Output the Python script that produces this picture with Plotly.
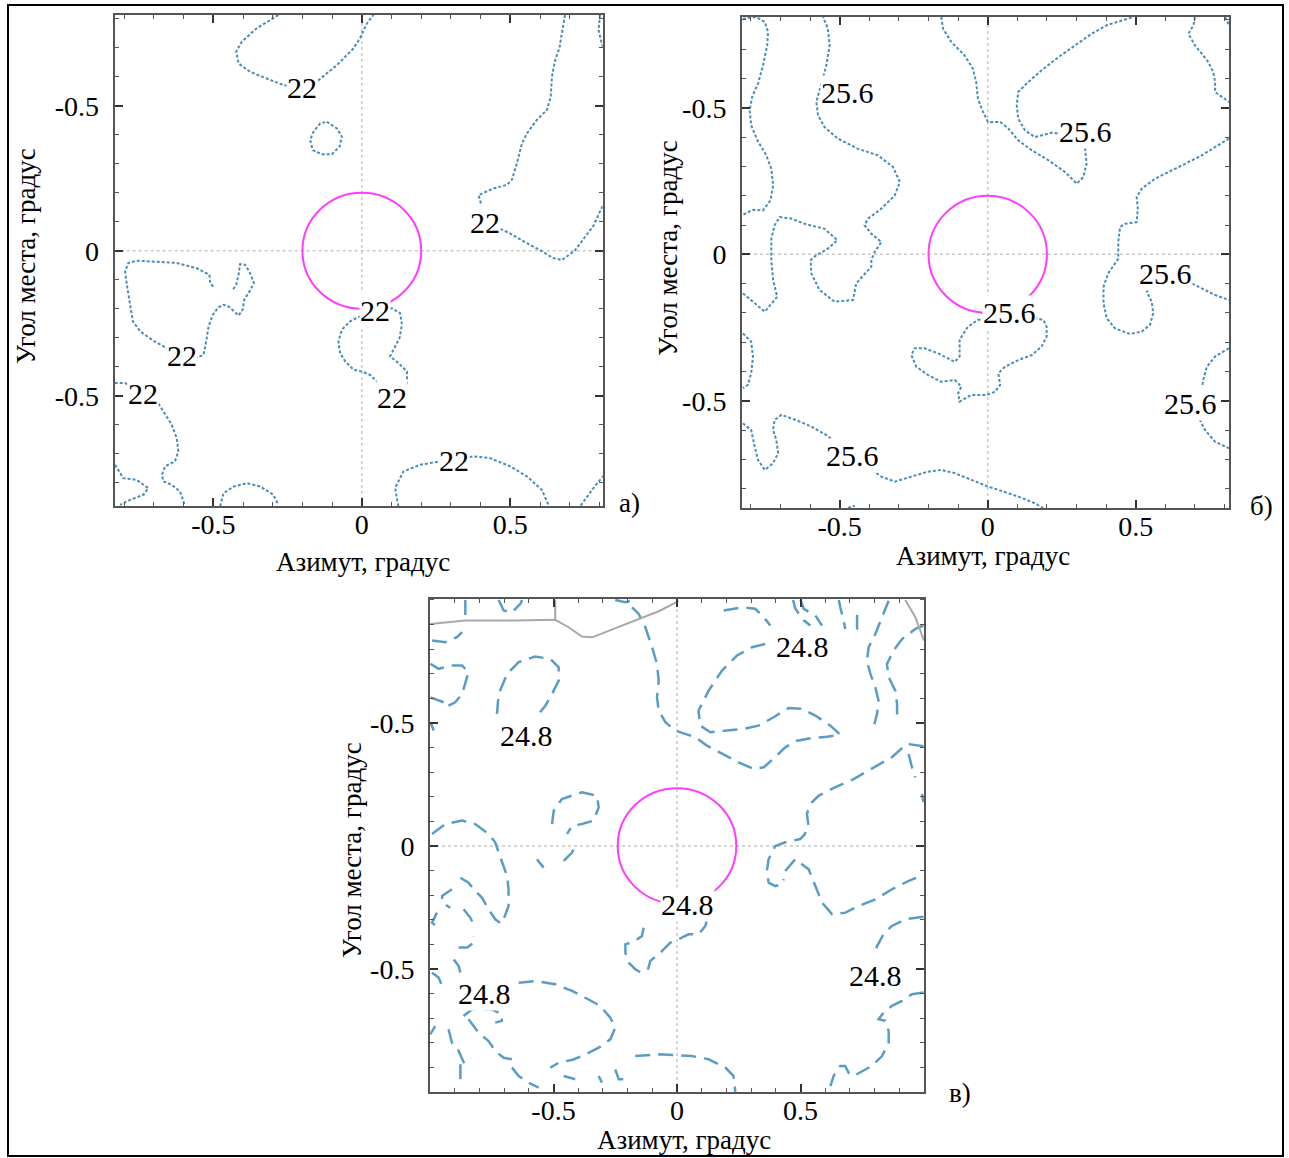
import plotly.graph_objects as go

W, H = 1289, 1158
SERIF = "Liberation Serif"

# ---------------- data: contour polylines (azimuth, elevation), degrees ----------------
# Panel а) level 22
a_level = "22"
a_c1 = [(-0.281,0.813),(-0.354,0.767),(-0.404,0.721),(-0.423,0.686),(-0.415,0.646),(-0.376,0.617),(-0.320,0.594),(-0.264,0.571),(-0.247,0.568),(-0.201,0.566),(-0.152,0.583),(-0.084,0.640),(-0.028,0.698),(-0.006,0.733),(0.017,0.784),(0.039,0.813)]
a_c2 = [(-0.118,0.445),(-0.084,0.422),(-0.067,0.393),(-0.075,0.359),(-0.101,0.333),(-0.135,0.333),(-0.165,0.347),(-0.174,0.382),(-0.163,0.410),(-0.140,0.439),(-0.118,0.445)]
a_c3 = [(0.684,0.813),(0.665,0.698),(0.651,0.658),(0.640,0.600),(0.636,0.531),(0.623,0.485),(0.589,0.451),(0.556,0.405),(0.539,0.370),(0.522,0.301),(0.505,0.244),(0.488,0.227),(0.443,0.215),(0.393,0.192),(0.404,0.152),(0.398,0.129),(0.415,0.099),(0.460,0.077),(0.499,0.060),(0.556,0.026),(0.600,0.002),(0.644,-0.025),(0.674,-0.032),(0.718,0.002),(0.779,0.085),(0.812,0.158)]
a_c4 = [(0.802,0.813),(0.797,0.761),(0.808,0.715),(0.816,0.686)]
a_c5 = [(-0.500,-0.123),(-0.511,-0.111),(-0.513,-0.083),(-0.556,-0.060),(-0.623,-0.042),(-0.702,-0.037),(-0.758,-0.034),(-0.786,-0.042),(-0.797,-0.071),(-0.791,-0.117),(-0.782,-0.175),(-0.771,-0.243),(-0.746,-0.278),(-0.702,-0.310),(-0.662,-0.333),(-0.606,-0.359),(-0.561,-0.370),(-0.533,-0.359),(-0.524,-0.312),(-0.516,-0.261),(-0.502,-0.221),(-0.483,-0.195),(-0.466,-0.186),(-0.449,-0.192),(-0.430,-0.209),(-0.415,-0.223),(-0.401,-0.203),(-0.396,-0.169),(-0.378,-0.140),(-0.363,-0.111),(-0.376,-0.077),(-0.393,-0.048),(-0.410,-0.046),(-0.415,-0.083),(-0.423,-0.117),(-0.434,-0.134)]
a_c6 = [(-0.832,-0.456),(-0.797,-0.456),(-0.741,-0.497),(-0.690,-0.519),(-0.668,-0.554),(-0.640,-0.600),(-0.623,-0.646),(-0.618,-0.692),(-0.629,-0.726),(-0.662,-0.743),(-0.673,-0.772),(-0.668,-0.795),(-0.640,-0.807),(-0.612,-0.830),(-0.595,-0.881)]
a_c7 = [(-0.831,-0.738),(-0.803,-0.784),(-0.758,-0.790),(-0.719,-0.818),(-0.735,-0.841),(-0.780,-0.859),(-0.814,-0.876)]
a_c8 = [(-0.477,-0.881),(-0.466,-0.836),(-0.432,-0.813),(-0.387,-0.801),(-0.342,-0.813),(-0.298,-0.841),(-0.281,-0.876)]
a_c9 = [(0.045,-0.208),(0.101,-0.198),(0.129,-0.215),(0.135,-0.255),(0.127,-0.301),(0.095,-0.364),(0.123,-0.387),(0.152,-0.416),(0.152,-0.462),(0.101,-0.497),(0.056,-0.456),(0.028,-0.428),(0.000,-0.416),(-0.028,-0.410),(-0.056,-0.381),(-0.073,-0.353),(-0.079,-0.312),(-0.067,-0.272),(-0.039,-0.243),(-0.006,-0.226),(0.045,-0.208)]
a_c10 = [(0.123,-0.881),(0.112,-0.818),(0.140,-0.761),(0.196,-0.738),(0.264,-0.726),(0.309,-0.721),(0.376,-0.709),(0.432,-0.715),(0.499,-0.743),(0.556,-0.778),(0.606,-0.824),(0.628,-0.876)]
a_c11 = [(0.825,-0.761),(0.780,-0.818),(0.735,-0.881)]
a_contours = [a_c1, a_c2, a_c3, a_c4, a_c5, a_c6, a_c7, a_c8, a_c9, a_c10, a_c11]
a_labels = [(-0.201,0.564),(0.415,0.099),(-0.604,-0.360),(-0.736,-0.491),(0.045,-0.206),(0.102,-0.505),(0.309,-0.722)]

# Panel б) level 25.6
b_level = "25.6"
b_c1 = [(-0.827,0.804),(-0.782,0.810),(-0.753,0.793),(-0.742,0.759),(-0.745,0.713),(-0.759,0.645),(-0.776,0.582),(-0.796,0.537),(-0.804,0.491),(-0.799,0.440),(-0.778,0.389),(-0.748,0.338),(-0.731,0.292),(-0.725,0.235),(-0.734,0.184),(-0.759,0.150),(-0.793,0.152),(-0.827,0.135)]
b_c2 = [(-0.827,-0.133),(-0.753,-0.196),(-0.711,-0.145),(-0.725,-0.088),(-0.731,-0.019),(-0.731,0.053),(-0.720,0.099),(-0.703,0.127),(-0.664,0.122),(-0.618,0.104),(-0.551,0.087),(-0.508,0.048),(-0.540,0.019),(-0.579,-0.003),(-0.598,-0.020),(-0.596,-0.065),(-0.568,-0.122),(-0.517,-0.162),(-0.455,-0.156),(-0.444,-0.099),(-0.393,-0.042),(-0.393,-0.019),(-0.382,0.008),(-0.359,0.042),(-0.393,0.070),(-0.416,0.099),(-0.404,0.122),(-0.359,0.156),(-0.314,0.201),(-0.297,0.247),(-0.320,0.298),(-0.371,0.338),(-0.438,0.360),(-0.506,0.395),(-0.551,0.434),(-0.573,0.474),(-0.579,0.520),(-0.545,0.645),(-0.534,0.713),(-0.540,0.770),(-0.556,0.810)]
b_c3 = [(-0.157,0.810),(-0.151,0.770),(-0.123,0.725),(-0.078,0.679),(-0.050,0.633),(-0.039,0.588),(-0.033,0.531),(-0.016,0.486),(0.001,0.452),(0.042,0.452),(0.070,0.429),(0.103,0.389),(0.149,0.355),(0.205,0.321),(0.261,0.281),(0.301,0.241),(0.323,0.264),(0.334,0.309),(0.329,0.360),(0.278,0.407),(0.216,0.415),(0.160,0.400),(0.126,0.423),(0.103,0.463),(0.098,0.509),(0.103,0.554),(0.137,0.588),(0.182,0.628),(0.239,0.673),(0.295,0.713),(0.351,0.753),(0.402,0.782),(0.453,0.799),(0.492,0.810)]
b_c4 = [(0.700,0.810),(0.695,0.782),(0.678,0.753),(0.700,0.713),(0.723,0.685),(0.745,0.656),(0.762,0.622),(0.768,0.588),(0.768,0.554),(0.791,0.537),(0.815,0.520)]
b_c5 = [(0.802,0.810),(0.815,0.782)]
b_c6 = [(0.815,0.395),(0.779,0.372),(0.723,0.338),(0.667,0.309),(0.610,0.281),(0.565,0.258),(0.520,0.224),(0.503,0.196),(0.507,0.156),(0.503,0.110),(0.464,0.104),(0.447,0.093),(0.441,0.042),(0.441,-0.015),(0.407,-0.065),(0.391,-0.111),(0.391,-0.167),(0.402,-0.218),(0.430,-0.253),(0.481,-0.272),(0.520,-0.264),(0.548,-0.241),(0.559,-0.201),(0.554,-0.162),(0.537,-0.128),(0.599,-0.067),(0.667,-0.088),(0.711,-0.111),(0.768,-0.139),(0.815,-0.156)]
b_c7 = [(0.815,-0.321),(0.768,-0.349),(0.740,-0.384),(0.728,-0.429),(0.721,-0.474),(0.684,-0.508),(0.711,-0.554),(0.734,-0.600),(0.768,-0.640),(0.815,-0.662)]
b_c8 = [(0.075,-0.200),(0.188,-0.224),(0.199,-0.247),(0.199,-0.281),(0.182,-0.315),(0.149,-0.344),(0.103,-0.361),(0.058,-0.384),(0.036,-0.406),(0.042,-0.446),(0.025,-0.469),(-0.003,-0.480),(-0.055,-0.480),(-0.095,-0.503),(-0.100,-0.474),(-0.089,-0.452),(-0.111,-0.429),(-0.157,-0.435),(-0.202,-0.412),(-0.241,-0.384),(-0.258,-0.344),(-0.247,-0.321),(-0.213,-0.321),(-0.168,-0.338),(-0.111,-0.367),(-0.095,-0.349),(-0.095,-0.292),(-0.067,-0.247),(-0.033,-0.224),(0.001,-0.218),(0.075,-0.200)]
b_c9 = [(-0.827,-0.270),(-0.799,-0.298),(-0.793,-0.350),(-0.799,-0.406),(-0.810,-0.446),(-0.827,-0.457)]
b_c10 = [(-0.827,-0.577),(-0.799,-0.600),(-0.787,-0.657),(-0.776,-0.702),(-0.753,-0.736),(-0.725,-0.713),(-0.708,-0.679),(-0.714,-0.634),(-0.725,-0.600),(-0.720,-0.566),(-0.697,-0.548),(-0.647,-0.566),(-0.596,-0.588),(-0.545,-0.617),(-0.458,-0.688),(-0.359,-0.759),(-0.314,-0.776),(-0.258,-0.759),(-0.202,-0.742),(-0.157,-0.736),(-0.111,-0.747),(-0.055,-0.770),(0.001,-0.793),(0.036,-0.804),(0.103,-0.827),(0.160,-0.850),(0.188,-0.867)]
b_c11 = [(-0.472,-0.866),(-0.449,-0.858)]
b_contours = [b_c1, b_c2, b_c3, b_c4, b_c5, b_c6, b_c7, b_c8, b_c9, b_c10, b_c11]
b_labels = [(-0.474,0.554),(0.329,0.420),(0.599,-0.064),(0.075,-0.200),(0.684,-0.508),(-0.458,-0.688)]

# Panel в) level 24.8
c_level = "24.8"
c_c1 = [(-0.729,0.537),(-0.722,0.618),(-0.688,0.699),(-0.641,0.747),(-0.574,0.770),(-0.513,0.760),(-0.479,0.726),(-0.479,0.672),(-0.506,0.618),(-0.533,0.570),(-0.560,0.537)]
c_c2 = [(-0.992,0.835),(-0.938,0.828),(-0.891,0.849),(-0.870,0.869)]
c_c3 = [(-0.998,0.740),(-0.965,0.720),(-0.918,0.733),(-0.870,0.733),(-0.844,0.706),(-0.857,0.659),(-0.870,0.618),(-0.898,0.584),(-0.925,0.570)]
c_c3b = [(-0.998,0.604),(-0.965,0.591),(-0.945,0.584)]
c_c4 = [(-0.857,1.0),(-0.857,0.916)]
c_c4b = [(-0.722,1.0),(-0.702,0.957),(-0.668,0.950),(-0.634,0.984),(-0.627,1.0)]
c_c4c = [(-0.250,1.0),(-0.209,0.991),(-0.182,0.997)]
c_c5 = [(0.357,0.821),(0.304,0.808),(0.243,0.774),(0.182,0.713),(0.128,0.631),(0.087,0.550),(0.094,0.489),(0.135,0.462),(0.202,0.469),(0.270,0.476),(0.330,0.489),(0.391,0.523),(0.452,0.561),(0.506,0.557),(0.560,0.530),(0.621,0.489),(0.661,0.452),(0.607,0.444),(0.547,0.439),(0.486,0.428),(0.438,0.401),(0.398,0.361),(0.351,0.320),(0.310,0.313),(0.249,0.340),(0.182,0.374),(0.121,0.408),(0.074,0.442),(0.034,0.455),(-0.007,0.469),(-0.047,0.503),(-0.074,0.550),(-0.081,0.604),(-0.074,0.672),(-0.081,0.740),(-0.101,0.808),(-0.128,0.889),(-0.155,0.943),(-0.182,0.970)]
c_c6 = [(0.189,0.957),(0.263,0.970),(0.317,0.964),(0.351,0.930),(0.378,0.896)]
c_c7 = [(0.470,1.0),(0.479,0.964),(0.513,0.917),(0.540,0.896)]
c_c7b = [(0.500,1.0),(0.513,0.964),(0.560,0.937),(0.587,0.896)]
c_c8 = [(0.655,1.0),(0.661,0.970),(0.675,0.916),(0.681,0.882)]
c_c8b = [(0.729,0.940),(0.729,0.882),(0.722,0.875)]
c_c9 = [(0.857,0.997),(0.830,0.930),(0.803,0.862),(0.776,0.808),(0.769,0.753),(0.783,0.699),(0.803,0.645),(0.816,0.590),(0.810,0.537),(0.796,0.483)]
c_c9b = [(0.998,0.896),(0.965,0.882),(0.911,0.841),(0.877,0.794),(0.850,0.740),(0.857,0.686),(0.884,0.631),(0.891,0.577),(0.891,0.503)]
c_c10 = [(0.998,0.405),(0.931,0.415),(0.870,0.361),(0.789,0.313),(0.715,0.272),(0.641,0.239),(0.573,0.204),(0.540,0.171),(0.526,0.130),(0.533,0.076),(0.515,0.045),(0.499,0.028),(0.438,0.015),(0.398,0.000),(0.371,-0.054),(0.364,-0.102),(0.371,-0.149),(0.398,-0.163),(0.425,-0.156),(0.432,-0.135)]
c_c10b = [(0.438,-0.102),(0.479,-0.054),(0.533,-0.095),(0.560,-0.163),(0.587,-0.230),(0.628,-0.278),(0.682,-0.271),(0.735,-0.244),(0.803,-0.217),(0.870,-0.176),(0.938,-0.142),(0.998,-0.118)]
c_c10c = [(0.938,0.374),(0.951,0.320),(0.965,0.279)]
c_c10d = [(0.992,0.211),(0.998,0.178)]
c_c11 = [(0.998,-0.288),(0.924,-0.298),(0.870,-0.325),(0.836,-0.359),(0.810,-0.407),(0.796,-0.447)]
c_c12 = [(0.998,-0.596),(0.951,-0.603),(0.911,-0.630),(0.870,-0.650),(0.836,-0.678),(0.816,-0.704),(0.843,-0.711),(0.857,-0.752),(0.857,-0.800),(0.830,-0.854),(0.789,-0.894),(0.749,-0.915),(0.715,-0.935),(0.695,-0.922),(0.681,-0.894),(0.661,-0.894),(0.634,-0.935),(0.621,-0.976)]
c_c13 = [(-0.169,-0.854),(-0.074,-0.847),(-0.007,-0.850),(0.061,-0.854),(0.128,-0.867),(0.196,-0.901),(0.229,-0.935),(0.236,-1.0)]
c_c14 = [(0.121,-0.298),(0.115,-0.325),(0.087,-0.359),(0.047,-0.359),(-0.007,-0.386),(-0.027,-0.393),(-0.074,-0.440),(-0.108,-0.467),(-0.121,-0.515)]
c_c15 = [(-0.135,-0.332),(-0.142,-0.366),(-0.169,-0.386),(-0.209,-0.400),(-0.209,-0.434),(-0.196,-0.474),(-0.169,-0.501),(-0.135,-0.521)]
c_c16 = [(-0.641,-0.556),(-0.574,-0.549),(-0.493,-0.562),(-0.425,-0.589),(-0.371,-0.617),(-0.311,-0.650),(-0.270,-0.698),(-0.250,-0.739),(-0.270,-0.786),(-0.317,-0.820),(-0.371,-0.847),(-0.419,-0.868),(-0.479,-0.881),(-0.513,-0.901)]
c_c17 = [(-0.992,0.049),(-0.938,0.089),(-0.870,0.103),(-0.817,0.089),(-0.763,0.049),(-0.736,0.015),(-0.722,-0.027),(-0.702,-0.081),(-0.688,-0.122),(-0.682,-0.176),(-0.682,-0.244),(-0.702,-0.298),(-0.722,-0.312)]
c_c18 = [(-0.877,-0.129),(-0.844,-0.149),(-0.817,-0.183),(-0.790,-0.210),(-0.763,-0.257),(-0.736,-0.298),(-0.716,-0.312)]
c_c19 = [(-0.911,-0.176),(-0.951,-0.203),(-0.951,-0.230),(-0.918,-0.251)]
c_c20 = [(-0.864,-0.257),(-0.837,-0.291),(-0.817,-0.332)]
c_c21 = [(-0.972,-0.271),(-0.992,-0.312),(-0.965,-0.332)]
c_c22 = [(-0.884,-0.413),(-0.850,-0.413),(-0.823,-0.393),(-0.823,-0.366)]
c_c23 = [(-0.904,-0.461),(-0.884,-0.488),(-0.877,-0.515)]
c_c24 = [(-0.992,-0.515),(-0.965,-0.535),(-0.945,-0.583)]
c_c25 = [(-0.864,-0.691),(-0.830,-0.664),(-0.749,-0.664),(-0.709,-0.684),(-0.709,-0.711),(-0.736,-0.718)]
c_c26 = [(-0.979,-0.732),(-0.999,-0.766)]
c_c27 = [(-0.925,-0.745),(-0.911,-0.800),(-0.884,-0.833),(-0.870,-0.867),(-0.857,-0.894)]
c_c28 = [(-0.844,-0.704),(-0.803,-0.759),(-0.763,-0.793),(-0.736,-0.833),(-0.702,-0.861),(-0.668,-0.867),(-0.648,-0.881)]
c_c29 = [(-0.668,-0.901),(-0.641,-0.935),(-0.601,-0.962),(-0.560,-0.982)]
c_c30 = [(-0.877,-0.887),(-0.877,-0.948),(-0.891,-0.976)]
c_c31 = [(-0.459,-0.935),(-0.412,-0.948)]
c_c32 = [(-0.317,-0.935),(-0.304,-0.962)]
c_c33 = [(-0.250,-0.908),(-0.236,-0.948),(-0.196,-0.948)]
c_c34 = [(-0.567,-0.054),(-0.540,-0.088)]
c_c35 = [(-0.459,-0.061),(-0.425,-0.027),(-0.419,-0.013)]
c_c36 = [(-0.506,0.089),(-0.499,0.143),(-0.466,0.191),(-0.385,0.218),(-0.324,0.204),(-0.317,0.157),(-0.338,0.103),(-0.385,0.089),(-0.425,0.082),(-0.445,0.049)]
c_c37 = [(-0.998,0.503),(-0.985,0.469)]
c_contours = [c_c1, c_c2, c_c3, c_c3b, c_c4, c_c4b, c_c4c, c_c5, c_c6, c_c7, c_c7b, c_c8, c_c8b,
              c_c9, c_c9b, c_c10, c_c10b, c_c10c, c_c10d, c_c11, c_c12, c_c13, c_c14, c_c15, c_c16,
              c_c17, c_c18, c_c19, c_c20, c_c21, c_c22, c_c23, c_c24, c_c25, c_c26, c_c27, c_c28,
              c_c29, c_c30, c_c31, c_c32, c_c33, c_c34, c_c35, c_c36, c_c37]
c_labels = [(0.508,0.812),(-0.610,0.451),(0.042,-0.236),(-0.780,-0.598),(0.803,-0.528)]
# grey boundary line in panel в
c_grey = [(-1.0,0.902),(-0.857,0.916),(-0.655,0.916),(-0.493,0.919),(-0.439,0.889),(-0.385,0.851),(-0.344,0.848),(-0.209,0.902),(-0.074,0.954),(0.006,0.995)]
c_grey2 = [(0.924,1.0),(0.945,0.963),(0.965,0.930),(0.985,0.875),(1.0,0.835)]
c_grey3 = [(-0.493,1.0),(-0.493,0.919)]

# beam circles (radius, degrees)
beam_r = {"a": (0.2, 0.2), "b": (0.2, 0.2), "c": (0.24, 0.235)}

x_ticks = [-0.5, 0, 0.5]
x_ticktext = ["-0.5", "0", "0.5"]
y_ticks = [0.5, 0, -0.5]
y_ticktext = ["-0.5", "0", "-0.5"]   # as printed in the original
x_title = "Азимут, градус"
y_title = "Угол места, градус"

# ---------------- layout geometry (pixels) ----------------
def px_dom_x(x0, x1):
    return [x0 / W, x1 / W]

def px_dom_y(y_top, y_bot):
    return [1 - y_bot / H, 1 - y_top / H]

panels = {
    "a": dict(ax="x", ay="y", dx=px_dom_x(114.7, 602.7), dy=px_dom_y(14.7, 506),
              xr=[-0.832, 0.811], yr=[-0.880, 0.814], contours=a_contours, labels=a_labels,
              level=a_level, dash="3px,2px", lw=2.0, color="#4a8db5"),
    "b": dict(ax="x2", ay="y2", dx=px_dom_x(742, 1229), dy=px_dom_y(17, 508),
              xr=[-0.830, 0.815], yr=[-0.866, 0.810], contours=b_contours, labels=b_labels,
              level=b_level, dash="3px,2px", lw=2.0, color="#4a8db5"),
    "c": dict(ax="x3", ay="y3", dx=px_dom_x(430, 924), dy=px_dom_y(598.7, 1092),
              xr=[-1.0, 1.0], yr=[-1.0, 1.005], contours=c_contours, labels=c_labels,
              level=c_level, dash="15px,8px", lw=2.5, color="#5a9dc4"),
}

fig = go.Figure()
shapes = []
annotations = []

for key, p in panels.items():
    for c in p["contours"]:
        fig.add_trace(go.Scatter(
            x=[pt[0] for pt in c], y=[pt[1] for pt in c], mode="lines",
            line=dict(color=p["color"], width=p["lw"], dash=p["dash"]),
            xaxis=p["ax"], yaxis=p["ay"], showlegend=False, hoverinfo="skip"))
    # zero grid lines (dotted)
    shapes.append(dict(type="line", xref=p["ax"], yref=p["ay"], x0=0, x1=0,
                       y0=p["yr"][0], y1=p["yr"][1], layer="below",
                       line=dict(color="#c8c8c8", width=1.5, dash="dot")))
    shapes.append(dict(type="line", xref=p["ax"], yref=p["ay"], y0=0, y1=0,
                       x0=p["xr"][0], x1=p["xr"][1], layer="below",
                       line=dict(color="#c8c8c8", width=1.5, dash="dot")))
    rx, ry = beam_r[key]
    shapes.append(dict(type="circle", xref=p["ax"], yref=p["ay"], x0=-rx, x1=rx, y0=-ry, y1=ry,
                       line=dict(color="#ff3cff", width=2)))
    for (lx, ly) in p["labels"]:
        annotations.append(dict(x=lx, y=ly, xref=p["ax"], yref=p["ay"], text=p["level"],
                                xanchor="center", yanchor="middle",
                                showarrow=False, bgcolor="white", borderpad=0,
                                font=dict(family=SERIF, size=30, color="black")))

for g in (c_grey, c_grey2, c_grey3):
    fig.add_trace(go.Scatter(x=[pt[0] for pt in g], y=[pt[1] for pt in g], mode="lines",
                             line=dict(color="#a8a8a8", width=2), xaxis="x3", yaxis="y3",
                             showlegend=False, hoverinfo="skip"))

axis_common = dict(showgrid=False, zeroline=False, showline=True, linewidth=2, linecolor="#555",
                   mirror="allticks", ticks="inside", ticklen=8, tickwidth=2, tickcolor="#333",
                   tickfont=dict(family=SERIF, size=28, color="black"),
                   minor=dict(dtick=0.1, tick0=0, ticks="inside", ticklen=4, tickwidth=1,
                              tickcolor="#555", showgrid=False),
                   fixedrange=True)

layout_axes = {}
for i, (key, p) in enumerate(panels.items()):
    sfx = "" if i == 0 else str(i + 1)
    layout_axes["xaxis" + sfx] = dict(axis_common, domain=p["dx"], range=p["xr"],
                                      anchor="y" + sfx, tickvals=x_ticks, ticktext=x_ticktext,
                                      ticklabelstandoff=-8)
    layout_axes["yaxis" + sfx] = dict(axis_common, domain=p["dy"], range=p["yr"],
                                      anchor="x" + sfx, tickvals=y_ticks, ticktext=y_ticktext,
                                      ticklabelstandoff=8)

# axis titles and panel letters (paper pixels)
def pa(text, x, y, size=27, angle=0):
    return dict(text=text, x=x / W, y=1 - y / H, xref="paper", yref="paper", showarrow=False,
                xanchor="center", yanchor="middle", textangle=angle,
                font=dict(family=SERIF, size=size, color="black"))

annotations += [
    pa(x_title, 363, 562), pa(y_title, 26, 256, angle=-90),
    pa(x_title, 983, 556), pa(y_title, 668, 248, angle=-90),
    pa(x_title, 684, 1140), pa(y_title, 352, 850, angle=-90),
    pa("а)", 629, 503, size=27), pa("б)", 1261, 506, size=27), pa("в)", 960, 1093, size=27),
]

# outer frame
shapes.append(dict(type="rect", xref="paper", yref="paper", x0=8 / W, x1=1283 / W,
                   y0=1 - 1156 / H, y1=1 - 5 / H, line=dict(color="black", width=2), layer="below"))

fig.update_layout(width=W, height=H, margin=dict(l=0, r=0, t=0, b=0),
                  paper_bgcolor="white", plot_bgcolor="white",
                  shapes=shapes, annotations=annotations, showlegend=False, **layout_axes)

fig.write_html("out.html", config={"displayModeBar": False})
